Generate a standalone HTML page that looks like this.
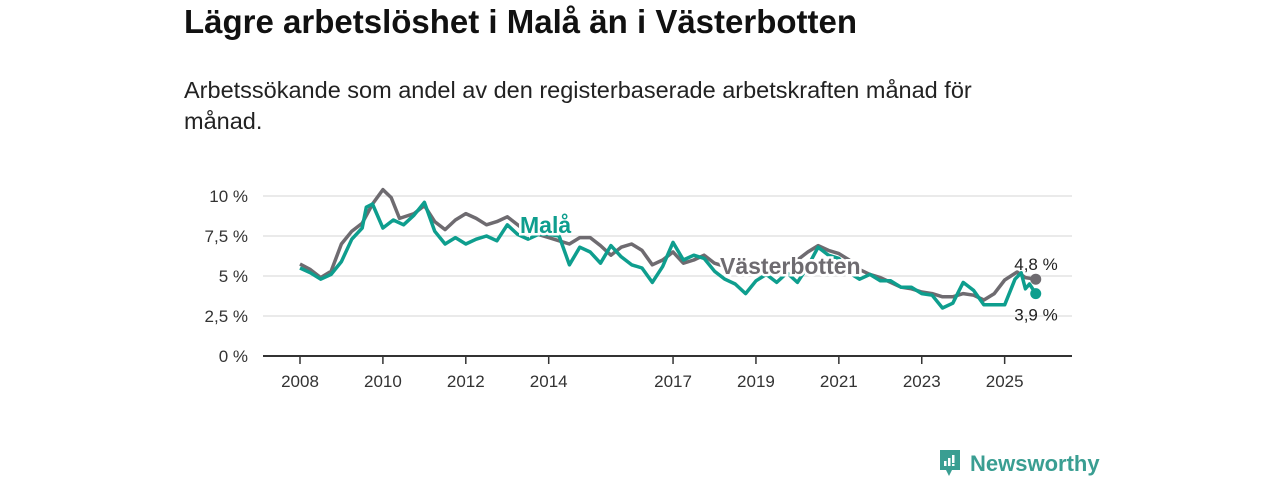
<!DOCTYPE html>
<html><head><meta charset="utf-8"><style>
body{margin:0;width:1280px;height:480px;background:#fff;font-family:"Liberation Sans",sans-serif;position:relative;overflow:hidden}
h1{position:absolute;left:184px;top:3px;margin:0;font-size:33px;font-weight:bold;color:#111;white-space:nowrap}
.sub{position:absolute;left:184px;top:75px;width:850px;font-size:23.5px;line-height:31px;color:#222}
svg{position:absolute;left:0;top:0}
</style></head><body>
<h1>Lägre arbetslöshet i Malå än i Västerbotten</h1>
<div class="sub">Arbetssökande som andel av den registerbaserade arbetskraften månad för månad.</div>
<svg id="chart" width="1280" height="480"></svg>
<div style="position:absolute;left:938px;top:449px;display:flex;align-items:center">
<svg width="24" height="30" style="position:static"><path d="M2 1h20v20h-8l-3 6-3-6H2z" fill="#3a9e92"/><rect x="6" y="12" width="2.5" height="5" fill="#fff"/><rect x="10" y="9" width="2.5" height="8" fill="#fff"/><rect x="14" y="6" width="2.5" height="8" fill="#fff"/><rect x="14" y="15" width="2.5" height="2" fill="#fff"/></svg>
<span style="margin-left:8px;font-size:22px;font-weight:bold;color:#3a9e92">Newsworthy</span></div>
<script>
const yTicks=[0,2.5,5,7.5,10];
const yTickLabels=["0 %","2,5 %","5 %","7,5 %","10 %"];
const xTicks=[2008,2010,2012,2014,2017,2019,2021,2023,2025];
const vbTimes=[2008,2008.25,2008.5,2008.75,2009,2009.25,2009.5,2009.75,2010,2010.2,2010.4,2010.75,2011,2011.25,2011.5,2011.75,2012,2012.25,2012.5,2012.75,2013,2013.25,2013.5,2013.75,2014,2014.25,2014.5,2014.75,2015,2015.25,2015.5,2015.75,2016,2016.25,2016.5,2016.75,2017,2017.25,2017.5,2017.75,2018,2018.25,2018.5,2018.75,2019,2019.25,2019.5,2019.75,2020,2020.25,2020.5,2020.75,2021,2021.25,2021.5,2021.75,2022,2022.25,2022.5,2022.75,2023,2023.25,2023.5,2023.75,2024,2024.25,2024.5,2024.75,2025,2025.3,2025.5,2025.75];
const vbValues=[5.75,5.4,4.9,5.3,7.0,7.8,8.3,9.5,10.4,9.9,8.6,8.9,9.4,8.4,7.9,8.5,8.9,8.6,8.2,8.4,8.7,8.2,7.7,7.6,7.4,7.2,7.0,7.4,7.4,6.9,6.3,6.8,7.0,6.6,5.7,6.0,6.5,5.8,6.0,6.3,5.8,5.6,5.5,5.5,5.4,5.4,5.6,5.8,6.0,6.5,6.9,6.6,6.4,6.0,5.4,5.1,4.9,4.6,4.3,4.2,4.0,3.9,3.7,3.7,3.9,3.8,3.5,3.9,4.75,5.25,4.9,4.8];
const malaTimes=[2008,2008.25,2008.5,2008.75,2009,2009.25,2009.5,2009.6,2009.75,2010,2010.25,2010.5,2010.75,2011,2011.25,2011.5,2011.75,2012,2012.25,2012.5,2012.75,2013,2013.25,2013.5,2013.75,2014,2014.25,2014.5,2014.75,2015,2015.25,2015.5,2015.75,2016,2016.25,2016.5,2016.75,2017,2017.25,2017.5,2017.75,2018,2018.25,2018.5,2018.75,2019,2019.25,2019.5,2019.75,2020,2020.25,2020.5,2020.75,2021,2021.25,2021.5,2021.75,2022,2022.25,2022.5,2022.75,2023,2023.25,2023.5,2023.75,2024,2024.25,2024.5,2024.75,2025,2025.25,2025.4,2025.5,2025.6,2025.75];
const malaValues=[5.5,5.2,4.8,5.1,5.9,7.3,8.0,9.3,9.5,8.0,8.5,8.2,8.8,9.6,7.8,7.0,7.4,7.0,7.3,7.5,7.2,8.2,7.6,7.3,7.6,7.6,7.5,5.7,6.8,6.5,5.8,6.9,6.2,5.7,5.5,4.6,5.6,7.1,6.0,6.3,6.1,5.3,4.8,4.5,3.9,4.7,5.1,4.6,5.2,4.6,5.6,6.8,6.3,6.1,5.2,4.8,5.1,4.7,4.7,4.3,4.3,3.9,3.8,3.0,3.3,4.6,4.1,3.2,3.2,3.2,4.8,5.2,4.2,4.5,3.9];
const NS="http://www.w3.org/2000/svg",svg=document.getElementById('chart');
const X=t=>300+(t-2008)*41.45, Y=v=>356-v*16;
function mk(tag,attrs,parent){const e=document.createElementNS(NS,tag);for(const k in attrs)e.setAttribute(k,attrs[k]);(parent||svg).appendChild(e);return e;}
yTicks.forEach((v,i)=>{
 const g=mk('line',{x1:263,x2:1072,y1:Y(v),y2:Y(v),stroke:v===0?'#333':'#ddd','stroke-width':v===0?2:1.3});
 
 
 const t=mk('text',{x:248,y:Y(v)+6,'text-anchor':'end','font-size':17,fill:'#333'});t.textContent=yTickLabels[i];
 
 
});
xTicks.forEach(yr=>{
 const l=mk('line',{x1:X(yr),x2:X(yr),y1:357,y2:364,stroke:'#333','stroke-width':1.5});
 
 
 const t=mk('text',{x:X(yr),y:387,'text-anchor':'middle','font-size':17,fill:'#333'});t.textContent=yr;
 
 
});
function path(ts,vs){return ts.map((t,i)=>(i?'L':'M')+X(t).toFixed(1)+','+Y(vs[i]).toFixed(1)).join('');}
const vb=mk('path',{d:path(vbTimes,vbValues),fill:'none',stroke:'#6e6b70','stroke-width':3.5,'stroke-linejoin':'round'});


const ml=mk('path',{d:path(malaTimes,malaValues),fill:'none',stroke:'#0e9e8e','stroke-width':3.5,'stroke-linejoin':'round'});


const lv=vbValues.length-1,lm=malaValues.length-1;
const d1=mk('circle',{cx:X(vbTimes[lv]),cy:Y(vbValues[lv]),r:5.5,fill:'#6e6b70'});


const d2=mk('circle',{cx:X(malaTimes[lm]),cy:Y(malaValues[lm]),r:5.5,fill:'#0e9e8e'});


const t1=mk('text',{x:1036,y:Y(vbValues[lv])-9,'text-anchor':'middle','font-size':17,fill:'#222'});t1.textContent='4,8 %';


const t2=mk('text',{x:1036,y:Y(malaValues[lm])+27,'text-anchor':'middle','font-size':17,fill:'#222'});t2.textContent='3,9 %';


const l1=mk('text',{x:520,y:233,'font-size':23,'font-weight':'bold',fill:'#0e9e8e',stroke:'#fff','stroke-width':5,'paint-order':'stroke'});l1.textContent='Malå';


const l2=mk('text',{x:720,y:274,'font-size':23,'font-weight':'bold',fill:'#6e6b70',stroke:'#fff','stroke-width':5,'paint-order':'stroke'});l2.textContent='Västerbotten';


</script>
</body></html>
